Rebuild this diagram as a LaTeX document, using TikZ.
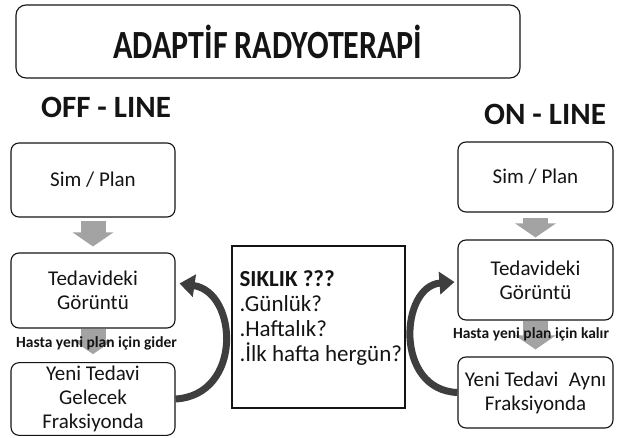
\documentclass[tikz,border=0pt]{standalone}
\usepackage{fontspec}
\setmainfont{Carlito}
\newfontfamily\titlefont[FakeStretch=0.8]{Carlito}
\definecolor{ink}{RGB}{20,20,20}
\definecolor{flowgray}{RGB}{163,163,163}
\definecolor{loopdark}{RGB}{62,62,62}
\usetikzlibrary{arrows.meta,positioning}

\begin{document}
\begin{tikzpicture}[x=1pt, y=-1pt,
    every node/.style={text=ink},
    stage/.style={draw=ink, line width=1.1pt, rounded corners=8pt, fill=white,
      minimum width=164pt, minimum height=74pt, align=center, font=\fontsize{21}{24}\selectfont},
    flow/.style={flowgray, line width=25pt, -{Triangle[length=14pt, width=40pt]}},
    loopback/.style={loopdark, line width=7pt, -{Triangle[length=15pt, width=22pt]}},
    side/.style={font=\bfseries\fontsize{31}{31}\selectfont},
    note/.style={font=\bfseries\fontsize{15.5}{17}\selectfont}]
  \useasboundingbox (0,0) rectangle (630,438);
  % title
  \node[draw=ink, line width=1.1pt, rounded corners=10pt, minimum width=504pt, minimum height=73pt,
    font=\titlefont\bfseries\fontsize{40}{40}\selectfont] (title) at (268,41.5) {ADAPTİF RADYOTERAPİ};
  \node[side] (offline) at (106,107) {OFF - LINE};
  \node[side] (online) at (545,114) {ON - LINE};
  % off-line column
  \node[stage] (lsim) at (93,180) {Sim / Plan};
  \node[stage, minimum height=75pt] (lview) at (93,290.5) {Tedavideki\\Görüntü};
  \node[stage, minimum height=72pt] (lnew) at (93,399) {Yeni Tedavi\\Gelecek\\Fraksiyonda};
  % on-line column
  \node[stage, minimum width=155pt, minimum height=70pt] (rsim) at (535.5,177) {Sim / Plan};
  \node[stage, minimum width=155pt, minimum height=80pt] (rview) at (535.5,280) {Tedavideki\\Görüntü};
  \node[stage, minimum width=155pt, minimum height=71pt] (rnew) at (535.5,392.5) {Yeni Tedavi\enspace Aynı\\Fraksiyonda};
  % frequency box
  \node[draw=ink, line width=1.3pt, minimum width=173pt, minimum height=162pt] (freq) at (318.5,327) {};
  \node[anchor=north west, align=left, font=\fontsize{23}{25}\selectfont, inner sep=0pt]
    (freqtext) at ([xshift=8pt, yshift=-25pt]freq.north west)
    {\textbf{SIKLIK ???}\\.Günlük?\\.Haftalık?\\.İlk hafta hergün?};
  % straight flow arrows
  \draw[flow, shorten <=3pt, shorten >=6pt] (lsim) -- (lview);
  \draw[flow, shorten >=8pt] (lview) -- (lnew);
  \draw[flow, shorten <=5pt, shorten >=2pt] (rsim) -- (rview);
  \draw[flow, shorten >=7pt] (rview) -- (rnew);
  \node[note] (lnote) at (96.5,343) {Hasta yeni plan için gider};
  \node[note] (rnote) at (531,334) {Hasta yeni plan için kalır};
  % loop arrows
  \draw[loopback] (lnew.east) .. controls (243,395) and (238,292) .. ([xshift=4pt, yshift=7pt]lview.east);
  \draw[loopback] (rnew.west) .. controls (394,390) and (400,286) .. ([xshift=-3pt, yshift=-2pt]rview.west);
\end{tikzpicture}
\end{document}
